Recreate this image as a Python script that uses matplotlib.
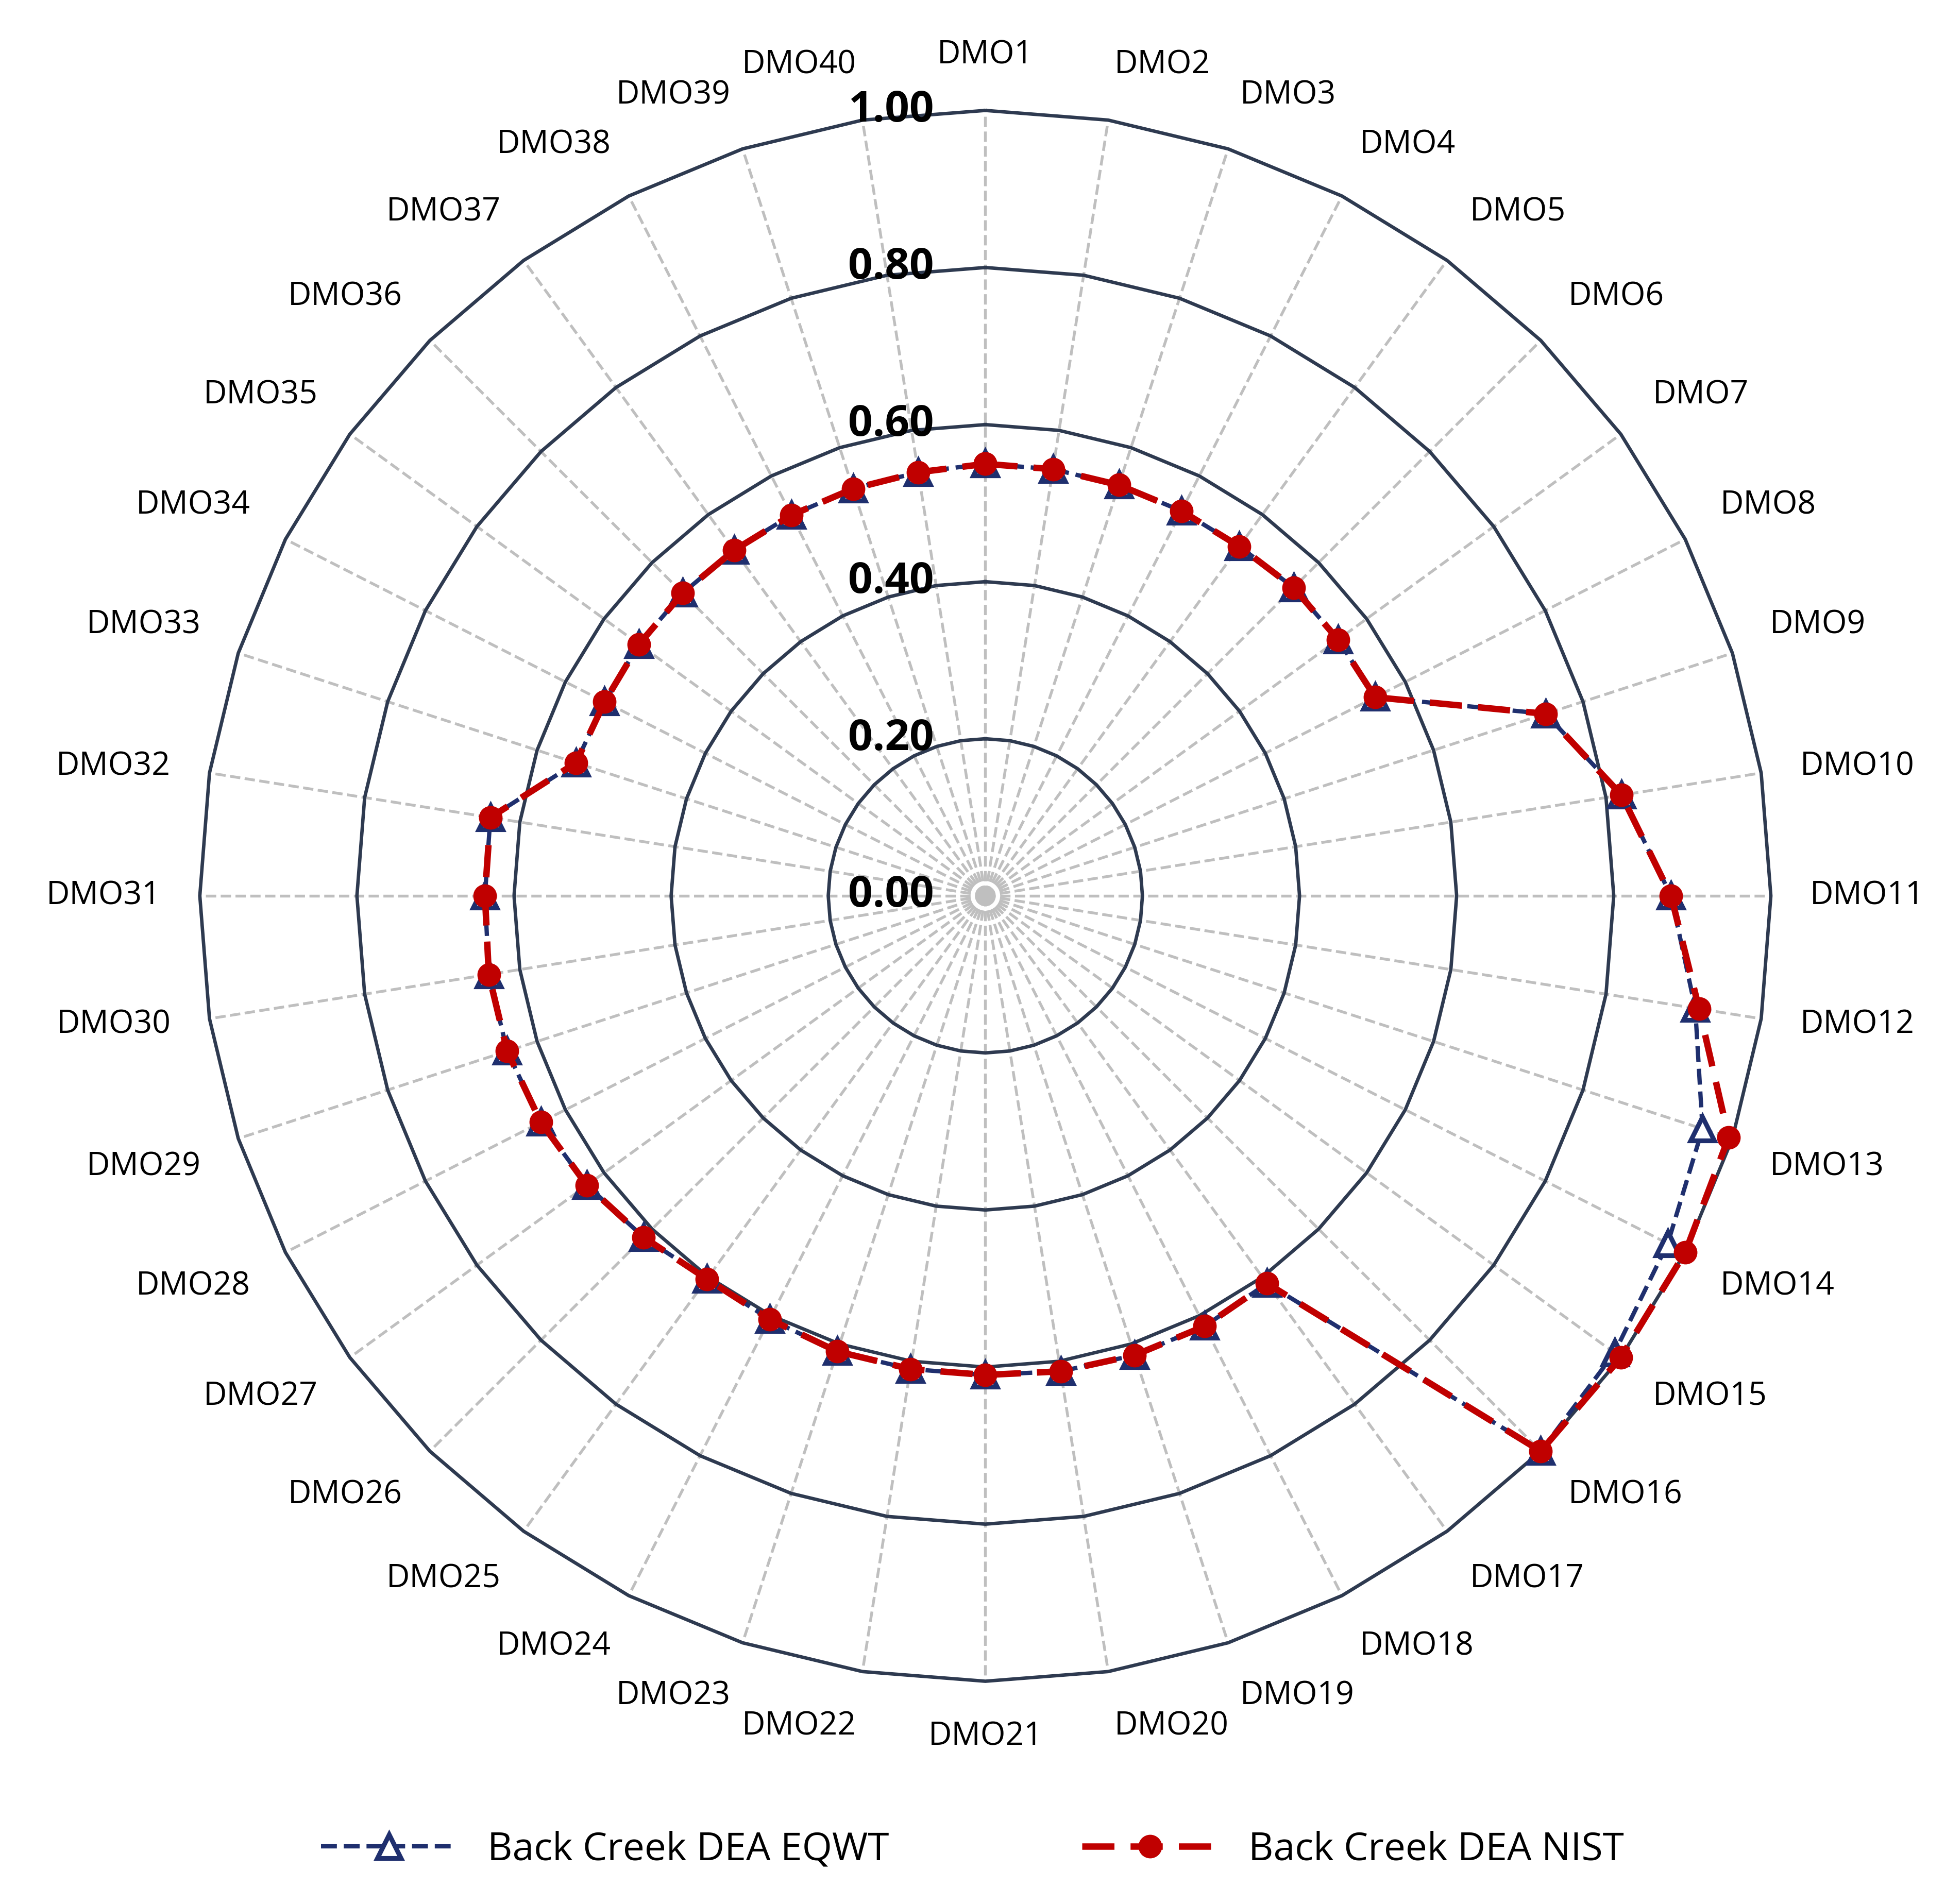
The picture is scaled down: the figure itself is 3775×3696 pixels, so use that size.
import numpy as np
import matplotlib.pyplot as plt

plt.rcParams['font.family'] = ['Open Sans', 'DejaVu Sans']

labels = ['DMO%d' % i for i in range(1, 41)]
eqwt = [0.55, 0.55, 0.55, 0.55, 0.55, 0.555, 0.555, 0.557, 0.75, 0.82,
        0.873, 0.915, 0.96, 0.975, 0.99, 1.0, 0.61, 0.615, 0.615, 0.613,
        0.61, 0.61, 0.61, 0.605, 0.603, 0.615, 0.627, 0.635, 0.64, 0.64,
        0.637, 0.638, 0.548, 0.544, 0.545, 0.545, 0.544, 0.544, 0.545, 0.546]
nist = [0.55, 0.55, 0.55, 0.55, 0.55, 0.555, 0.555, 0.557, 0.75, 0.82,
        0.873, 0.92, 0.995, 1.0, 1.0, 1.0, 0.61, 0.615, 0.615, 0.613,
        0.61, 0.61, 0.61, 0.605, 0.603, 0.615, 0.627, 0.635, 0.64, 0.64,
        0.637, 0.638, 0.548, 0.544, 0.545, 0.545, 0.544, 0.544, 0.545, 0.546]
ticks = [0.0, 0.2, 0.4, 0.6, 0.8, 1.0]

n = len(labels)
theta = np.arange(n) * 2 * np.pi / n
tc = np.append(theta, theta[0])

fig = plt.figure(figsize=(3775 / 300, 3696 / 300), dpi=300)
ax = fig.add_axes([0.1026, 0.117, 0.808, 0.825], projection='polar')
ax.set_theta_zero_location('N')
ax.set_theta_direction(-1)
ax.set_ylim(0, 1.0)
ax.grid(False)
ax.spines['polar'].set_visible(False)
ax.set_xticks([])
ax.set_yticks([])

# spokes
for t in theta:
    ax.plot([t, t], [0, 1.0], color='#BFBFBF', ls='--', lw=1.3, zorder=1)
# polygon rings
for r in ticks[1:]:
    ax.plot(tc, [r] * len(tc), color='#2E3A50', lw=1.6, zorder=2, clip_on=False)
ax.scatter([0], [0], s=70, color='#BFBFBF', zorder=3)

for r in ticks:
    ax.annotate('%.2f' % r, (0, r), xytext=(-24, 0), textcoords='offset points',
                ha='right', va='center', fontsize=20, fontweight='bold', zorder=6)

for t, lab in zip(theta, labels):
    s, c = np.sin(t), np.cos(t)
    ha = 'center' if abs(s) < 0.1 else ('left' if s > 0 else 'right')
    va = 'center' if abs(c) < 0.3 else ('bottom' if c > 0 else 'top')
    ax.text(t, 1.05, lab, ha=ha, va=va, fontsize=15)

ev = eqwt + eqwt[:1]
nv = nist + nist[:1]
ax.plot(tc, ev, color='#1F2F6E', ls='--', lw=2, marker='^', ms=11,
        mfc='white', mec='#1F2F6E', mew=2.2, zorder=4, clip_on=False,
        label='Back Creek DEA EQWT')
ax.plot(tc, nv, color='#C00000', ls=(0, (5, 2.5)), lw=3, marker='o', ms=10,
        mfc='#C00000', mec='#C00000', zorder=5, clip_on=False,
        label='Back Creek DEA NIST')

fig.legend(loc='lower center', ncol=2, frameon=False, fontsize=18,
           bbox_to_anchor=(0.5, 0.0), columnspacing=5, handlelength=3.5)

fig.savefig('out.png', dpi=300)
